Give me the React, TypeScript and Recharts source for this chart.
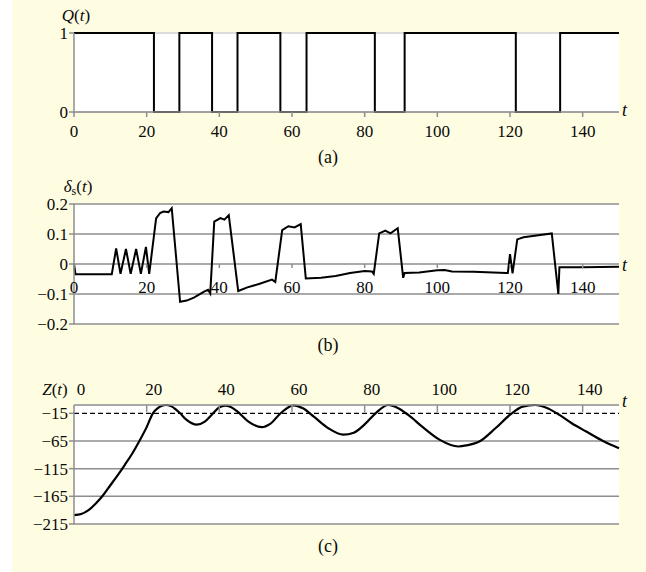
import React from 'react';
import { LineChart, Line, XAxis, YAxis, ReferenceLine, CartesianGrid } from 'recharts';

// ---- data ----
const tTicks = [0, 20, 40, 60, 80, 100, 120, 140];

const qTimes = [0, 22, 29, 38, 45, 56.8, 64, 82.8, 91, 121.6, 133.8, 150];
const qValues = [1, 0, 1, 0, 1, 0, 1, 0, 1, 0, 1, 1];
const qTicks = [0, 1];

const deltaTimes = [
  0, 0.4, 10.4, 11.6, 12.8, 14.3, 15.6, 17.1, 18.4, 19.8, 20.7, 22.6, 23.7, 24.6, 26.0, 26.9,
  29.2, 31, 33, 35.8, 36.9, 37.5, 38.6, 40.3, 41.4, 42.6, 45.2, 47.7, 51.1, 54.5, 55.4,
  57.3, 59, 60.7, 62.4, 63.8, 68, 72, 76, 80, 82, 82.5, 84, 85.7, 87.1, 89.1, 90.6, 91,
  95, 100, 102, 104, 110, 119, 119.4, 120, 120.7, 122, 123.7, 131.5, 133.3, 133.6, 140, 150,
];
const deltaValues = [
  0, -0.034, -0.034, 0.052, -0.033, 0.05, -0.033, 0.05, -0.033, 0.057, -0.033, 0.152, 0.17, 0.175, 0.173, 0.186,
  -0.126, -0.122, -0.112, -0.092, -0.086, -0.098, 0.141, 0.153, 0.148, 0.163, -0.09, -0.078, -0.066, -0.052, -0.06,
  0.113, 0.126, 0.122, 0.133, -0.048, -0.046, -0.04, -0.03, -0.023, -0.025, -0.033, 0.102, 0.111, 0.102, 0.119, -0.046, -0.03,
  -0.028, -0.021, -0.02, -0.025, -0.026, -0.03, -0.03, 0.033, -0.031, 0.082, 0.089, 0.102, -0.1, -0.011, -0.011, -0.009,
];
const deltaTicks = [-0.2, -0.1, 0, 0.1, 0.2];
const deltaTickLabels = ['\u22120.2', '\u22120.1', '0', '0.1', '0.2'];

const zTimes = [
  0, 2, 4, 6, 8, 10, 12, 14, 16, 18, 20, 21.7, 23, 24, 25.4, 27, 28, 29.2, 31, 33.8, 36, 38, 40, 41.6, 43, 45, 48, 51.7,
  54, 57, 60.4, 63, 66, 70, 74.1, 77, 80, 83, 86.5, 89, 92, 96, 100.7, 105.8, 108, 111.8, 116, 120.5,
  123.5, 126.9, 130, 132.9, 137, 141, 145.6, 150,
];
const zValues = [
  -199, -197, -190, -178, -163, -145, -127, -108, -88, -65, -40, -15, -6, -2, 0, -3, -8, -15, -27, -35.5, -30, -17, -4, -1, -3, -12, -30, -40,
  -34, -14, -0.5, -6, -21, -42, -53.5, -50, -35, -15, 0, -5, -18, -40, -63, -75, -73, -65, -42, -15,
  -3, 0, -5, -15, -33, -48, -65, -78,
];
const zTicks = [-215, -165, -115, -65, -15];
const zGrid = [-215, -165, -115, -65];
const zThreshold = -15;

const qData = qTimes.map((t, i) => ({ t, v: qValues[i] }));
const deltaData = deltaTimes.map((t, i) => ({ t, v: deltaValues[i] }));
const zData = zTimes.map((t, i) => ({ t, v: zValues[i] }));

// ---- styles ----
const FONT = '"Liberation Serif", "DejaVu Serif", "Times New Roman", serif';
const GRAY = '#8e8e8e';
const LIGHT = '#d2d2d2';
const BG = '#FEFCE1';
const tickStyle = { fill: '#0a0a0a', fontSize: 17, fontFamily: FONT };

const Txt = ({ x, y, children, anchor = 'center', size = 17 }: any) => (
  <div
    style={{
      position: 'absolute',
      left: x,
      top: y,
      transform: anchor === 'center' ? 'translate(-50%, -50%)' : 'translate(0, -50%)',
      fontFamily: FONT,
      fontSize: size,
      lineHeight: 1,
      color: '#0a0a0a',
      whiteSpace: 'nowrap',
    }}
  >
    {children}
  </div>
);

// panel b x tick: label below the zero line
const BTick = (props: any) => {
  const { x, payload } = props;
  return (
    <g>
      <line x1={x} x2={x} y1={84} y2={88} stroke={GRAY} strokeWidth={1.5} />
      <text x={x} y={107} textAnchor="middle" dominantBaseline="central" style={tickStyle}>
        {payload.value}
      </text>
    </g>
  );
};

// panel c x tick: on the top axis, tick mark inside, label above shifted right
const CTick = (props: any) => {
  const { x, payload } = props;
  return (
    <g>
      {payload.value !== 0 && <line x1={x} x2={x} y1={35} y2={42} stroke={GRAY} strokeWidth={1.5} />}
      <text x={x + 7} y={19} textAnchor="middle" dominantBaseline="central" style={tickStyle}>
        {payload.value}
      </text>
    </g>
  );
};

export default function App() {
  return (
    <div style={{ position: 'absolute', left: 0, top: 0, width: 646, height: 572, background: '#fff', overflow: 'hidden' }}>
      <div style={{ position: 'absolute', left: 12, top: 0, width: 634, height: 572, background: BG }} />

      {/* (a) */}
      <div style={{ position: 'absolute', left: 0, top: 0 }}>
        <LineChart width={646} height={180} data={qData} margin={{ top: 33, right: 27, left: 14, bottom: 38 }}>
          <CartesianGrid vertical={false} stroke={LIGHT} strokeWidth={1.5} fill="#fff" />
          <XAxis
            dataKey="t"
            type="number"
            domain={[0, 150]}
            ticks={tTicks}
            height={30}
            stroke={GRAY}
            strokeWidth={1.5}
            tickSize={5}
            tickMargin={8}
            tick={tickStyle}
            allowDataOverflow
          />
          <YAxis
            type="number"
            domain={[0, 1]}
            ticks={qTicks}
            width={60}
            stroke={GRAY}
            strokeWidth={1.5}
            tickSize={5}
            tickMargin={1}
            tick={tickStyle}
          />
          <Line type="stepAfter" dataKey="v" stroke="#000" strokeWidth={2} dot={false} isAnimationActive={false} />
        </LineChart>
      </div>

      {/* (b) */}
      <div style={{ position: 'absolute', left: 0, top: 180 }}>
        <LineChart width={646} height={180} data={deltaData} margin={{ top: 24, right: 27, left: 14, bottom: 6 }}>
          <CartesianGrid vertical={false} stroke={GRAY} strokeWidth={1.5} fill="#fff" />
          <XAxis
            dataKey="t"
            type="number"
            domain={[0, 150]}
            ticks={tTicks}
            height={30}
            axisLine={false}
            tickLine={false}
            tick={<BTick />}
          />
          <YAxis
            type="number"
            domain={[-0.2, 0.2]}
            ticks={deltaTicks}
            tickFormatter={(v: number) => deltaTickLabels[deltaTicks.findIndex((d) => Math.abs(d - v) < 1e-9)] ?? String(v)}
            width={60}
            stroke={GRAY}
            strokeWidth={1.5}
            tickSize={5}
            tickMargin={1}
            tick={tickStyle}
          />
          <Line type="linear" dataKey="v" stroke="#000" strokeWidth={2} dot={false} isAnimationActive={false} />
        </LineChart>
      </div>

      {/* (c) */}
      <div style={{ position: 'absolute', left: 0, top: 370 }}>
        <LineChart width={646} height={202} data={zData} margin={{ top: 5, right: 27, left: 14, bottom: 48 }}>
          <CartesianGrid vertical={false} horizontal={false} fill="#fff" />
          <XAxis
            dataKey="t"
            type="number"
            orientation="top"
            domain={[0, 150]}
            ticks={tTicks}
            height={30}
            stroke={GRAY}
            strokeWidth={1.5}
            tickLine={false}
            tick={<CTick />}
          />
          <YAxis
            type="number"
            domain={[-215, 0]}
            ticks={zTicks}
            tickFormatter={(v: number) => (v < 0 ? '\u2212' + Math.abs(v) : String(v))}
            width={60}
            stroke={GRAY}
            strokeWidth={1.5}
            tickSize={5}
            tickMargin={1}
            tick={tickStyle}
          />
          {zGrid.map((g) => (
            <ReferenceLine key={g} y={g} stroke={GRAY} strokeWidth={1.5} />
          ))}
          <ReferenceLine y={zThreshold} stroke="#000" strokeWidth={1.3} strokeDasharray="5 3" />
          <Line type="monotone" dataKey="v" stroke="#000" strokeWidth={2.2} dot={false} isAnimationActive={false} />
        </LineChart>
      </div>

      {/* labels */}
      <Txt x={76} y={15}><i>Q</i>(<i>t</i>)</Txt>
      <Txt x={622} y={110} anchor="left" size={18}><i>t</i></Txt>
      <Txt x={328} y={157} size={18}>(a)</Txt>

      <Txt x={78} y={186}><i>δ</i><sub style={{ fontSize: 12, verticalAlign: 'baseline', position: 'relative', top: 3 }}>s</sub>(<i>t</i>)</Txt>
      <Txt x={622} y={265} anchor="left" size={18}><i>t</i></Txt>
      <Txt x={328} y={345} size={18}>(b)</Txt>

      <Txt x={55} y={389}><i>Z</i>(<i>t</i>)</Txt>
      <Txt x={622} y={401} anchor="left" size={18}><i>t</i></Txt>
      <Txt x={328} y={546} size={18}>(c)</Txt>
    </div>
  );
}
